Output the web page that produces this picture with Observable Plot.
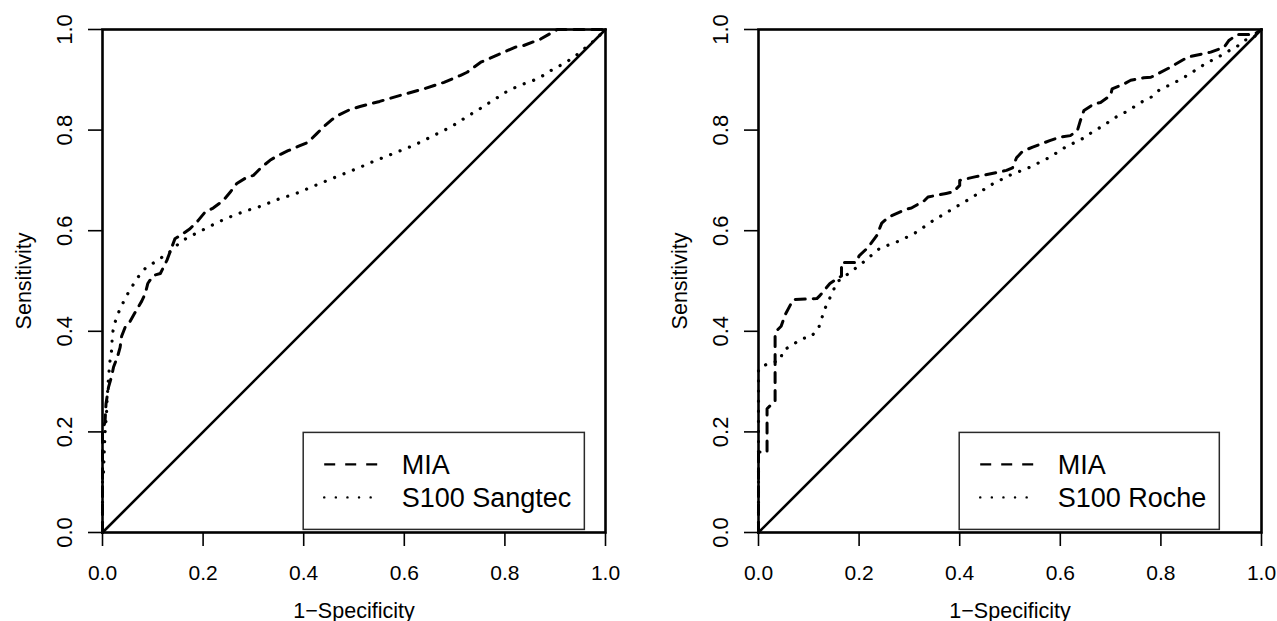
<!DOCTYPE html>
<html>
<head>
<meta charset="utf-8">
<script src="https://cdn.jsdelivr.net/npm/d3@7"></script>
<script src="https://cdn.jsdelivr.net/npm/@observablehq/plot@0.6"></script>
<style>
html, body { margin: 0; padding: 0; background: #fff; overflow: hidden; }
#wrap { position: relative; width: 1277px; height: 621px; }
#wrap svg { position: absolute; top: 0; }
</style>
</head>
<body>
<div id="wrap"></div>
<script>
// ---------- data ----------
const ticks = [0, 0.2, 0.4, 0.6, 0.8, 1.0];
const tickLabels = ["0.0", "0.2", "0.4", "0.6", "0.8", "1.0"];
const xTitle = "1\u2212Specificity";
const yTitle = "Sensitivity";
const diagFpr = [0, 1];
const diagSens = [0, 1];

// Left panel: MIA vs S100 Sangtec
const leftLegend = ["MIA", "S100 Sangtec"];
const leftMiaFpr  = [0, 0, 0.005, 0.007, 0.012, 0.018, 0.022, 0.030, 0.035, 0.038, 0.045, 0.055, 0.068, 0.078, 0.085, 0.090, 0.101, 0.115, 0.128, 0.137, 0.144, 0.160, 0.174, 0.190, 0.204, 0.220, 0.240, 0.255, 0.267, 0.285, 0.300, 0.315, 0.333, 0.350, 0.369, 0.390, 0.409, 0.425, 0.439, 0.455, 0.468, 0.490, 0.512, 0.551, 0.592, 0.639, 0.679, 0.712, 0.725, 0.752, 0.791, 0.821, 0.837, 0.871, 0.904, 1];
const leftMiaSens = [0, 0.200, 0.220, 0.256, 0.289, 0.310, 0.329, 0.350, 0.368, 0.390, 0.408, 0.420, 0.443, 0.460, 0.475, 0.495, 0.511, 0.515, 0.541, 0.565, 0.584, 0.594, 0.604, 0.620, 0.637, 0.645, 0.660, 0.678, 0.694, 0.705, 0.710, 0.725, 0.740, 0.750, 0.759, 0.768, 0.776, 0.792, 0.806, 0.820, 0.829, 0.840, 0.847, 0.857, 0.869, 0.882, 0.895, 0.909, 0.915, 0.935, 0.952, 0.965, 0.968, 0.981, 1.0, 1];
const leftS100Fpr  = [0, 0, 0.002, 0.003, 0.005, 0.008, 0.009, 0.012, 0.015, 0.019, 0.019, 0.022, 0.029, 0.038, 0.048, 0.058, 0.071, 0.085, 0.100, 0.118, 0.138, 0.154, 0.172, 0.191, 0.210, 0.230, 0.250, 0.270, 0.290, 0.310, 0.333, 0.353, 0.373, 0.393, 0.413, 0.433, 0.452, 0.472, 0.492, 0.512, 0.532, 0.552, 0.572, 0.592, 0.612, 0.632, 0.652, 0.672, 0.692, 0.708, 0.728, 0.745, 0.765, 0.781, 0.801, 0.821, 0.838, 0.857, 0.877, 0.897, 0.917, 0.937, 0.957, 0.980, 1];
const leftS100Sens = [0, 0.110, 0.117, 0.150, 0.197, 0.236, 0.262, 0.309, 0.342, 0.368, 0.388, 0.408, 0.431, 0.451, 0.471, 0.488, 0.508, 0.525, 0.535, 0.547, 0.561, 0.577, 0.588, 0.597, 0.607, 0.617, 0.626, 0.634, 0.641, 0.647, 0.656, 0.664, 0.670, 0.677, 0.686, 0.694, 0.702, 0.710, 0.718, 0.726, 0.735, 0.743, 0.751, 0.759, 0.767, 0.776, 0.786, 0.796, 0.806, 0.816, 0.829, 0.839, 0.852, 0.862, 0.875, 0.885, 0.892, 0.899, 0.909, 0.922, 0.932, 0.945, 0.961, 0.980, 1];

// Right panel: MIA vs S100 Roche
const rightLegend = ["MIA", "S100 Roche"];
const rightMiaFpr  = [0, 0, 0.017, 0.017, 0.033, 0.033, 0.045, 0.053, 0.069, 0.116, 0.122, 0.142, 0.165, 0.165, 0.195, 0.200, 0.218, 0.235, 0.245, 0.255, 0.265, 0.294, 0.304, 0.330, 0.337, 0.373, 0.387, 0.400, 0.400, 0.430, 0.446, 0.476, 0.493, 0.505, 0.513, 0.525, 0.545, 0.579, 0.599, 0.620, 0.634, 0.640, 0.647, 0.667, 0.680, 0.700, 0.703, 0.727, 0.740, 0.766, 0.780, 0.819, 0.853, 0.885, 0.899, 0.926, 0.935, 0.952, 0.985, 1];
const rightMiaSens = [0, 0.160, 0.160, 0.246, 0.262, 0.398, 0.410, 0.433, 0.463, 0.465, 0.471, 0.495, 0.510, 0.537, 0.537, 0.550, 0.567, 0.590, 0.615, 0.624, 0.630, 0.643, 0.645, 0.660, 0.667, 0.674, 0.677, 0.690, 0.700, 0.707, 0.710, 0.716, 0.720, 0.725, 0.745, 0.758, 0.766, 0.779, 0.786, 0.789, 0.799, 0.819, 0.839, 0.852, 0.855, 0.869, 0.882, 0.892, 0.899, 0.904, 0.905, 0.925, 0.945, 0.952, 0.955, 0.965, 0.978, 0.990, 0.990, 1];
const rightS100Fpr  = [0, 0, 0.017, 0.043, 0.049, 0.066, 0.087, 0.103, 0.119, 0.132, 0.146, 0.156, 0.182, 0.208, 0.241, 0.281, 0.314, 0.347, 0.387, 0.426, 0.460, 0.499, 0.539, 0.579, 0.610, 0.630, 0.650, 0.667, 0.687, 0.703, 0.723, 0.740, 0.760, 0.780, 0.796, 0.816, 0.836, 0.853, 0.873, 0.893, 0.909, 0.930, 0.950, 0.965, 0.985, 1];
const rightS100Sens = [0, 0.325, 0.335, 0.342, 0.362, 0.372, 0.386, 0.388, 0.405, 0.445, 0.475, 0.498, 0.517, 0.537, 0.565, 0.580, 0.597, 0.620, 0.644, 0.667, 0.690, 0.710, 0.726, 0.746, 0.766, 0.776, 0.786, 0.799, 0.809, 0.822, 0.832, 0.842, 0.855, 0.865, 0.879, 0.889, 0.899, 0.909, 0.922, 0.935, 0.942, 0.955, 0.965, 0.978, 0.985, 1];

// legend placed at data coordinates (R legend(x, y, ...))
const legendAt = [0.4, 0.2];

// ---------- drawing ----------
const FONT = '"Liberation Sans", Arial, Helvetica, sans-serif';
const DASH = "10,8";
const DOT = "0.1,10";
const toPts = (xs, ys) => xs.map((x, i) => ({x, y: ys[i]}));
const wrap = document.getElementById("wrap");

function panel({left, width, marginLeft, marginRight, miaFpr, miaSens, s100Fpr, s100Sens, legend}) {
  const plot = Plot.plot({
    width, height: 621,
    marginLeft, marginRight, marginTop: 29, marginBottom: 89,
    x: {domain: [0, 1]},
    y: {domain: [0, 1]},
    style: {fontFamily: FONT, fontSize: "21px", color: "#000", background: "transparent", overflow: "visible"},
    marks: [
      Plot.line(toPts(diagFpr, diagSens), {x: "x", y: "y", stroke: "#000", strokeWidth: 2.6}),
      Plot.line(toPts(miaFpr, miaSens), {x: "x", y: "y", stroke: "#000", strokeWidth: 3, strokeDasharray: DASH}),
      Plot.line(toPts(s100Fpr, s100Sens), {x: "x", y: "y", stroke: "#000", strokeWidth: 3.2, strokeDasharray: DOT, strokeLinecap: "round"}),
      Plot.frame({stroke: "#000", strokeWidth: 2.6}),
      Plot.axisX({ticks, tickSize: 14, tickPadding: 19, strokeWidth: 1.6, fontSize: 21,
        tickFormat: d => tickLabels[ticks.indexOf(d)], label: null}),
      Plot.axisY({ticks, tickSize: 14, strokeWidth: 1.6, tickFormat: () => "", label: null}),
      Plot.text(ticks, {y: d => d, text: (d, i) => tickLabels[i], frameAnchor: "left", dx: -31,
        rotate: -90, lineAnchor: "bottom", textAnchor: "middle", fontSize: 22, fill: "#000"}),
      Plot.text([yTitle], {text: d => d, frameAnchor: "left", dx: -72, rotate: -90,
        lineAnchor: "bottom", textAnchor: "middle", fontSize: 21.5, fill: "#000"}),
      Plot.text([xTitle], {text: d => d, frameAnchor: "bottom", dy: 85,
        lineAnchor: "bottom", textAnchor: "middle", fontSize: 21.5, fill: "#000"})
    ]
  });
  plot.style.left = left + "px";
  wrap.appendChild(plot);

  // legend box, anchored at data coordinates through the plot's scales
  const sx = plot.scale("x"), sy = plot.scale("y");
  const bx = sx.apply(legendAt[0]), by = sy.apply(legendAt[1]) + 1;
  const g = d3.select(plot).append("g")
    .style("font-family", FONT).style("font-size", "27px").style("text-anchor", "start")
    .attr("text-anchor", "start").attr("fill", "#000");
  const rect = g.append("rect").attr("x", bx).attr("y", by).attr("height", 97)
    .attr("fill", "none").attr("stroke", "#2a2a2a").attr("stroke-width", 1.5);
  const styles = [
    {dash: "11,10", cap: "butt", w: 2.4},
    {dash: "0.1,11.5", cap: "round", w: 2.4}
  ];
  let maxLen = 0;
  legend.forEach((lab, i) => {
    const ly = by + 32 + i * 33;
    g.append("line").attr("x1", bx + 21).attr("x2", bx + 74).attr("y1", ly).attr("y2", ly)
      .attr("stroke", "#000").attr("stroke-width", styles[i].w)
      .attr("stroke-dasharray", styles[i].dash).attr("stroke-linecap", styles[i].cap);
    const t = g.append("text").attr("x", bx + 98.5).attr("y", by + 42 + i * 32.3)
      .style("text-anchor", "start").text(lab);
    maxLen = Math.max(maxLen, t.node().getComputedTextLength());
  });
  rect.attr("width", 98.5 + maxLen + 13);
}

panel({left: 0, width: 640, marginLeft: 102, marginRight: 35,
  miaFpr: leftMiaFpr, miaSens: leftMiaSens, s100Fpr: leftS100Fpr, s100Sens: leftS100Sens, legend: leftLegend});
panel({left: 640, width: 637, marginLeft: 118, marginRight: 16,
  miaFpr: rightMiaFpr, miaSens: rightMiaSens, s100Fpr: rightS100Fpr, s100Sens: rightS100Sens, legend: rightLegend});
</script>
</body>
</html>
